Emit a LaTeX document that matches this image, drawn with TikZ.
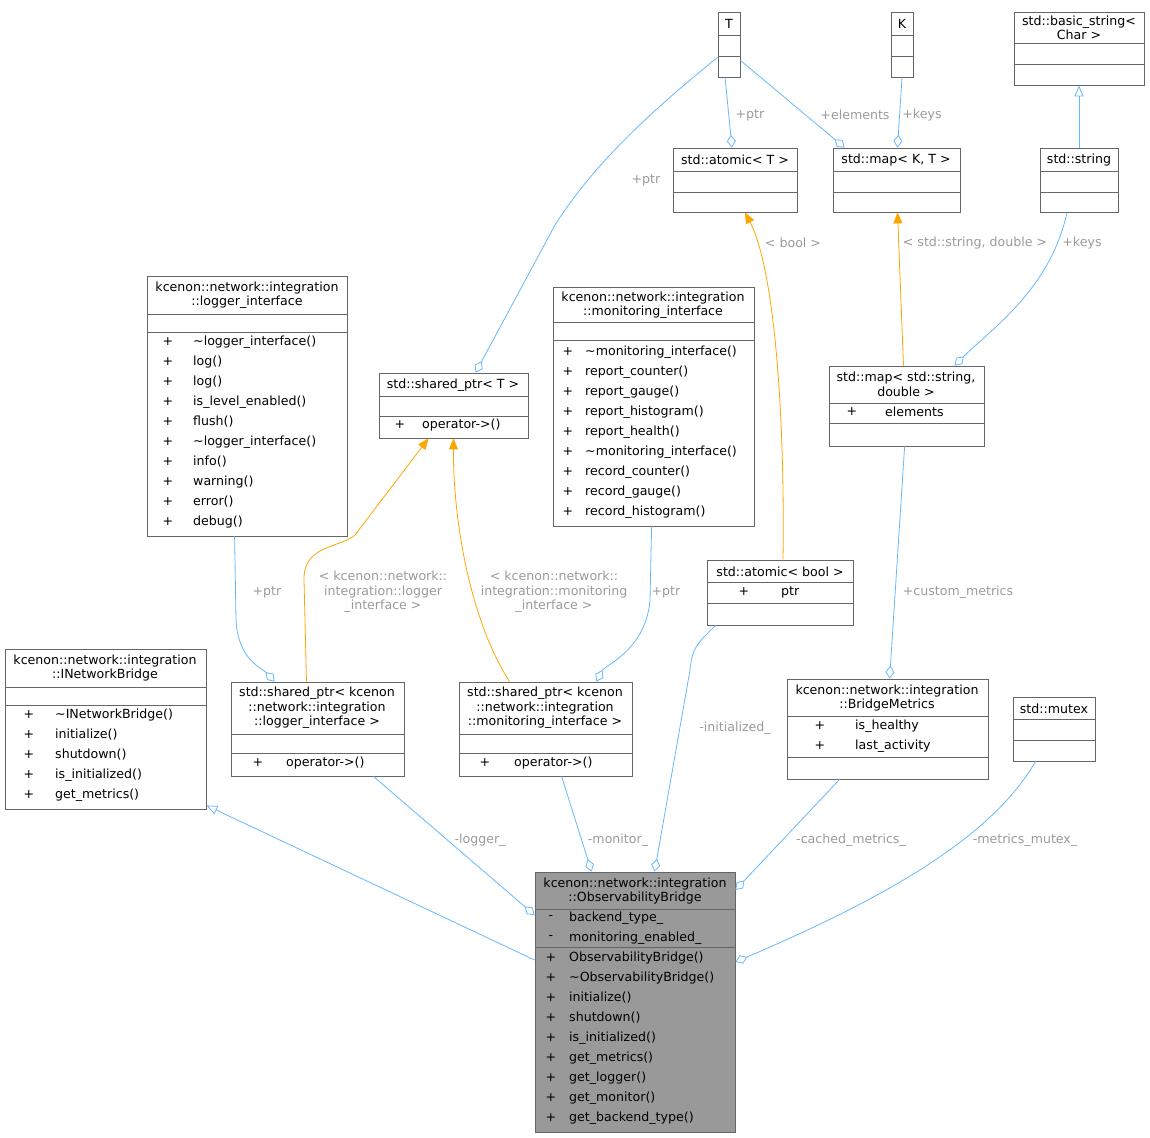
\documentclass[tikz,border=0pt]{standalone}
\usepackage{fontspec}
\setmainfont{DejaVu Sans}
\usetikzlibrary{arrows.meta}
\definecolor{edgeblue}{HTML}{63B8FF}
\definecolor{tmplor}{HTML}{FFA500}
\definecolor{lblgray}{HTML}{9A9A9A}
\definecolor{boxgray}{HTML}{666666}
\definecolor{obsfill}{HTML}{999999}
\tikzset{
 x=1pt,y=-1pt,
 cbox/.style={draw=boxgray,fill=white,line width=0.8pt,inner sep=0pt},
 cline/.style={draw=boxgray,line width=0.8pt},
 txt/.style={font=\fontsize{12.6}{14.6}\selectfont,inner sep=0pt,align=center},
 mem/.style={txt,anchor=west},
 lbl/.style={font=\fontsize{12.6}{14.6}\selectfont,text=lblgray,inner sep=0pt,align=center},
 agg/.style={draw=edgeblue,line width=0.8pt,-{Diamond[open,length=13pt,width=9pt]}},
 inh/.style={draw=edgeblue,line width=0.8pt,-{Triangle[open,length=11pt,width=9pt]}},
 tmpl/.style={draw=tmplor,line width=0.8pt,-{Triangle[length=11pt,width=9pt]}},
}
\newcommand\ub[7][]{%
 \node[cbox,#1,minimum width={(#5-#3)*1pt},minimum height={(#6-#4)*1pt}] (#2) at ({(#3+#5)/2},{(#4+#6)/2}) {};
 \foreach \s in {#7} \draw[cline] (#3,\s) -- (#5,\s);
}
\newcommand\mems[5]{% plusx, namex, y0, sign, list
 \foreach \m [count=\i from 0] in {#5} {
  \node[txt] at (#1,{#3+20*\i}) {#4};
  \node[mem] at (#2,{#3+20*\i}) {\m};
 }
}
\begin{document}
\begin{tikzpicture}
\useasboundingbox (0,0) rectangle (1150,1137);
% boxes
\ub{T}{718}{12}{740}{77}{35,56}
\node[txt] (tT) at (729,24) {T};
\ub{K}{891}{12}{913}{77}{35,56}
\node[txt] (tK) at (902,24) {K};
\ub{bs}{1014}{12}{1144}{85}{43,64}
\node[txt] (tbs) at (1079,28) {std::basic\_string<\\Char >};
\ub{str}{1040}{148}{1118}{212}{171,192}
\node[txt] (tstr) at (1079,160) {std::string};
\ub{atT}{673}{148}{797}{212}{171,192}
\node[txt] (tatT) at (735,160) {std::atomic< T >};
\ub{mapKT}{833}{148}{960}{212}{171,192}
\node[txt] (tmapKT) at (896,160) {std::map< K, T >};
\ub{li}{147}{276}{347}{536}{314,332}
\node[txt] (tli) at (247,295) {kcenon::network::integration\\::logger\_interface};
\mems{168}{193}{342}{+}{\textasciitilde logger\_interface(),log(),log(),is\_level\_enabled(),flush(),\textasciitilde logger\_interface(),info(),warning(),error(),debug()}
\ub{spT}{379}{373}{528}{438}{396,416}
\node[txt] (tspT) at (453,385) {std::shared\_ptr< T >};
\mems{400}{422}{425}{+}{operator->()}
\ub{mi}{553}{287}{754}{526}{322,340}
\node[txt] (tmi) at (653,305) {kcenon::network::integration\\::monitoring\_interface};
\mems{568}{585}{352}{+}{\textasciitilde monitoring\_interface(),report\_counter(),report\_gauge(),report\_histogram(),report\_health(),\textasciitilde monitoring\_interface(),record\_counter(),record\_gauge(),record\_histogram()}
\ub{msd}{829}{366}{984}{446}{403,423}
\node[txt] (tmsd) at (906,384) {std::map< std::string,\\double >};
\mems{852}{885}{412}{+}{elements}
\ub{ab}{707}{560}{853}{625}{582,603}
\node[txt] (tab) at (780,572) {std::atomic< bool >};
\mems{744}{781}{592}{+}{ptr}
\ub{inb}{5}{649}{206}{809}{687,705}
\node[txt] (tinb) at (105,668) {kcenon::network::integration\\::INetworkBridge};
\mems{29}{55}{715}{+}{\textasciitilde INetworkBridge(),initialize(),shutdown(),is\_initialized(),get\_metrics()}
\ub{spl}{231}{682}{404}{776}{734,753}
\node[txt] (tspl) at (317,708) {std::shared\_ptr< kcenon\\::network::integration\\::logger\_interface >};
\mems{258}{286}{763}{+}{operator->()}
\ub{spm}{459}{682}{632}{776}{734,753}
\node[txt] (tspm) at (545,708) {std::shared\_ptr< kcenon\\::network::integration\\::monitoring\_interface >};
\mems{485}{514}{763}{+}{operator->()}
\ub{bm}{787}{679}{988}{779}{716,757}
\node[txt] (tbm) at (887,698) {kcenon::network::integration\\::BridgeMetrics};
\mems{820}{855}{726}{+}{is\_healthy,last\_activity}
\ub{mx}{1013}{697}{1095}{761}{719,740}
\node[txt] (tmx) at (1054,709) {std::mutex};
\ub[fill=obsfill]{obs}{535}{872}{735}{1132}{909,947}
\node[txt] (tobs) at (635,891) {kcenon::network::integration\\::ObservabilityBridge};
\mems{551}{569}{918}{-}{backend\_type\_,monitoring\_enabled\_}
\mems{551}{569}{958}{+}{ObservabilityBridge(),\textasciitilde ObservabilityBridge(),initialize(),shutdown(),is\_initialized(),get\_metrics(),get\_logger(),get\_monitor(),get\_backend\_type()}
% edges
\draw[agg] ([yshift=20pt]T.south west) .. controls (640,120) and (590,170) .. (555,225) -- ([xshift=97pt]spT.north west);
\node[lbl] (l1) at (646,180) {+ptr};
\draw[agg] ([xshift=-4pt]T.south) -- ([xshift=-3pt]atT.north);
\node[lbl] (l2) at (750,115) {+ptr};
\draw[agg] ([yshift=17pt]T.south east) -- ([xshift=12pt]mapKT.north west);
\node[lbl] (l3) at (855,115) {+elements};
\draw[agg] (K.south) -- ([xshift=1pt]mapKT.north);
\node[lbl] (l4) at (922,115) {+keys};
\draw[inh] (str.north) -- (bs.south);
\draw[agg] ([xshift=-12pt]str.south) .. controls (1050,290) and (990,330) .. ([xshift=126pt]msd.north west);
\node[lbl] (l5) at (1082,243) {+keys};
\draw[tmpl] ([xshift=-3pt]msd.north) -- ([xshift=1pt]mapKT.south);
\node[lbl] (l6) at (975,243) {< std::string, double >};
\draw[tmpl] ([xshift=3pt]ab.north) .. controls (785,420) and (775,270) .. ([xshift=10pt]atT.south);
\node[lbl] (l7) at (793,243) {< bool >};
\draw[tmpl] ([xshift=-11pt]spl.north) -- (304,580) .. controls (303,545) and (340,548) .. (355,535) -- ([xshift=-25pt]spT.south);
\node[lbl] (l8) at (383,592) {< kcenon::network::\\integration::logger\\\_interface >};
\draw[tmpl] ([xshift=-36pt]spm.north) .. controls (470,620) and (453,520) .. (spT.south);
\node[lbl] (l9) at (554,592) {< kcenon::network::\\integration::monitoring\\\_interface >};
\draw[agg] ([xshift=88pt]li.south west) -- (236,620) .. controls (238,660) and (262,668) .. ([xshift=44pt]spl.north west);
\node[lbl] (l10) at (267,592) {+ptr};
\draw[agg] ([xshift=99pt]mi.south west) -- (650,600) .. controls (646,650) and (605,665) .. ([xshift=-36pt]spm.north east);
\node[lbl] (l11) at (666,592) {+ptr};
\draw[agg] ([xshift=76pt]msd.south west) -- ([xshift=103pt]bm.north west);
\node[lbl] (l12) at (958,592) {+custom\_metrics};
\draw[inh] (obs.west |- 0,960) -- ([yshift=4pt]inb.south east);
\draw[agg] ([xshift=-31pt]spl.south east) -- (obs.west |- 0,915);
\node[lbl] (l13) at (480,840) {-logger\_};
\draw[agg] ([xshift=103pt]spm.south west) -- ([xshift=57pt]obs.north west);
\node[lbl] (l14) at (618,840) {-monitor\_};
\draw[agg] ([xshift=9pt]ab.south west) .. controls (695,645) and (692,650) .. (690,670) -- ([xshift=120pt]obs.north west);
\node[lbl] (l15) at (735,728) {-initialized\_};
\draw[agg] ([xshift=53pt]bm.south west) -- (obs.east |- 0,890);
\node[lbl] (l16) at (851,840) {-cached\_metrics\_};
\draw[agg] ([xshift=23pt]mx.south west) .. controls (990,840) and (880,900) .. (obs.east |- 0,962);
\node[lbl] (l17) at (1025,840) {-metrics\_mutex\_};
\end{tikzpicture}
\end{document}
